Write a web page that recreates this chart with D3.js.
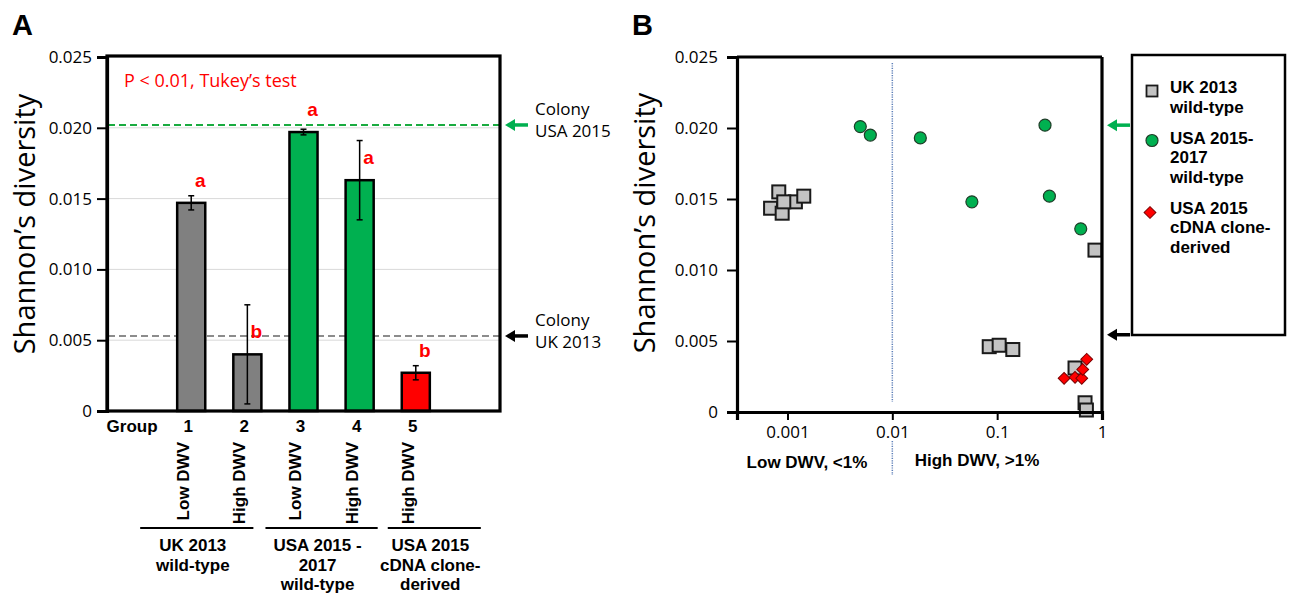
<!DOCTYPE html>
<html lang="en">
<head>
<meta charset="utf-8">
<title>Shannon's diversity</title>
<script src="https://cdn.jsdelivr.net/npm/d3@7"></script>
<style>
body { margin: 0; background: #fff; }
.sans { font-family: "Open Sans", sans-serif; }
.bold { font-family: "Liberation Sans", Arial, sans-serif; font-weight: bold; }
</style>
</head>
<body>
<svg id="fig" width="1290" height="596"></svg>
<script>
// ---- panel A data ----
var slots = ["Group", "1", "2", "3", "4", "5", ""];
var groups = ["1", "2", "3", "4", "5"];
var conditions = ["Low DWV", "High DWV", "Low DWV", "High DWV", "High DWV"];
var means = [0.0147, 0.0040, 0.0197, 0.0163, 0.0027];
var errs = [0.0005, 0.0035, 0.0002, 0.0028, 0.0005];
var letters = ["a", "b", "a", "a", "b"];
var barColors = ["#808080", "#808080", "#00b050", "#00b050", "#ff0000"];
var sources = [["UK 2013", "wild-type"], ["USA 2015 -", "2017", "wild-type"], ["USA 2015", "cDNA clone-", "derived"]];
var sourceBars = [["1", "2"], ["3", "4"], ["5", "5"]];
var colonyUSA = 0.0202, colonyUK = 0.0053;
var yTicks = [0, 0.005, 0.010, 0.015, 0.020, 0.025];

// ---- panel B data: [DWV fraction, Shannon's diversity] ----
var xTicksB = [0.001, 0.01, 0.1, 1];
var ukPts = [[0.00069, 0.01435], [0.00089, 0.0140], [0.000826, 0.0155], [0.00119, 0.0148],
             [0.00143, 0.0152], [0.000922, 0.0148], [0.084, 0.0046], [0.1045, 0.0047],
             [0.141, 0.0044], [0.553, 0.0031], [0.689, 0.00065], [0.71, 0.00014], [0.857, 0.0114]];
var usaPts = [[0.00495, 0.0201], [0.00617, 0.0195], [0.0185, 0.0193], [0.0574, 0.0148],
              [0.286, 0.0202], [0.315, 0.0152], [0.627, 0.0129]];
var cdnaPts = [[0.435, 0.00237], [0.553, 0.00244], [0.641, 0.00237], [0.655, 0.0030], [0.715, 0.00371]];
var legendItems = [["UK 2013", "wild-type"], ["USA 2015-", "2017", "wild-type"], ["USA 2015", "cDNA clone-", "derived"]];

var svg = d3.select("#fig");
var fmt = function (d) { return d === 0 ? "0" : d3.format(".3f")(d); };
var green = "#00b050";

function arrow(x, y, color) {
    svg.append("line").attr("x1", x + 8).attr("x2", x + 23).attr("y1", y).attr("y2", y)
        .attr("stroke", color).attr("stroke-width", 3.5);
    svg.append("path").attr("d", "M" + x + "," + y + "L" + (x + 10) + "," + (y - 6) + "L" + (x + 10) + "," + (y + 6) + "Z")
        .attr("fill", color);
}

function styleAxis(g) {
    g.select(".domain").attr("stroke-width", 3.2);
    g.selectAll(".tick line").attr("stroke-width", 2);
    g.selectAll(".tick text").attr("class", "sans").attr("font-size", 17).attr("fill", "#000");
}

// ================= Panel A =================
var xA = d3.scaleBand().domain(slots).range([107, 500]).paddingInner(0.5).paddingOuter(0.25);
var yA = d3.scaleLinear().domain([0, 0.025]).range([411, 57]);
var bw = xA.bandwidth();

svg.append("text").attr("class", "bold").attr("x", 12).attr("y", 35).attr("font-size", 29).text("A");

svg.append("g").selectAll("line").data(yTicks.slice(1, 5)).join("line")
    .attr("x1", 107).attr("x2", 500).attr("y1", yA).attr("y2", yA)
    .attr("stroke", "#d9d9d9").attr("stroke-width", 1);

// colony reference lines
svg.append("line").attr("x1", 108).attr("x2", 499).attr("y1", yA(colonyUSA)).attr("y2", yA(colonyUSA))
    .attr("stroke", "#1aab40").attr("stroke-width", 2).attr("stroke-dasharray", "7,4");
svg.append("line").attr("x1", 108).attr("x2", 499).attr("y1", yA(colonyUK)).attr("y2", yA(colonyUK))
    .attr("stroke", "#8c8c8c").attr("stroke-width", 2).attr("stroke-dasharray", "7,4");

svg.append("g").selectAll("rect").data(groups).join("rect")
    .attr("x", function (d) { return xA(d); })
    .attr("y", function (d, i) { return yA(means[i]); })
    .attr("width", bw)
    .attr("height", function (d, i) { return yA(0) - yA(means[i]); })
    .attr("fill", function (d, i) { return barColors[i]; })
    .attr("stroke", "#000").attr("stroke-width", 2.5);

var eb = svg.append("g").attr("stroke", "#000").attr("stroke-width", 1.5);
groups.forEach(function (g, i) {
    var cx = xA(g) + bw / 2;
    eb.append("line").attr("x1", cx).attr("x2", cx).attr("y1", yA(means[i] + errs[i])).attr("y2", yA(means[i] - errs[i]));
    eb.append("line").attr("x1", cx - 3).attr("x2", cx + 3).attr("y1", yA(means[i] + errs[i])).attr("y2", yA(means[i] + errs[i]));
    eb.append("line").attr("x1", cx - 3).attr("x2", cx + 3).attr("y1", yA(means[i] - errs[i])).attr("y2", yA(means[i] - errs[i]));
});

svg.append("g").selectAll("text").data(groups).join("text")
    .attr("class", "bold").attr("font-size", 19).attr("fill", "#ff0000")
    .attr("x", function (d) { return xA(d) + bw / 2 + 9; })
    .attr("y", function (d, i) { return yA(means[i]) - 16; })
    .attr("text-anchor", "middle")
    .text(function (d, i) { return letters[i]; });

svg.append("text").attr("class", "sans").attr("x", 124).attr("y", 87).attr("font-size", 18)
    .attr("fill", "#ff0000").text("P < 0.01, Tukey\u2019s test");

svg.append("rect").attr("x", 107).attr("y", 56).attr("width", 393).attr("height", 355)
    .attr("fill", "none").attr("stroke", "#000").attr("stroke-width", 3.2);

var axA = svg.append("g").attr("transform", "translate(107,0)")
    .call(d3.axisLeft(yA).tickValues(yTicks).tickFormat(fmt).tickSize(10).tickPadding(5));
styleAxis(axA);

svg.append("text").attr("class", "sans").attr("font-size", 29).attr("text-anchor", "middle")
    .attr("transform", "translate(35,224) rotate(-90)").text("Shannon\u2019s diversity");

// group row
svg.append("g").selectAll("text").data(slots.slice(0, 6)).join("text")
    .attr("class", "bold").attr("font-size", 17).attr("text-anchor", "middle")
    .attr("x", function (d) { return xA(d) + bw / 2 - 3; }).attr("y", 432)
    .text(function (d) { return d; });

svg.append("g").selectAll("text").data(groups).join("text")
    .attr("class", "bold").attr("font-size", 17).attr("text-anchor", "end").attr("dy", "0.35em")
    .attr("transform", function (d) { return "translate(" + (xA(d) + bw / 2 - 8) + ",442) rotate(-90)"; })
    .text(function (d, i) { return conditions[i]; });

var bracketPad = [[37, -8], [24, 4], [14, 51]];
sources.forEach(function (lines, k) {
    var x1 = xA(sourceBars[k][0]) - bracketPad[k][0];
    var x2 = xA(sourceBars[k][1]) + bw + bracketPad[k][1];
    svg.append("line").attr("x1", x1).attr("x2", x2).attr("y1", 528).attr("y2", 528)
        .attr("stroke", "#000").attr("stroke-width", 2);
    var t = svg.append("text").attr("class", "bold").attr("font-size", 17).attr("text-anchor", "middle");
    lines.forEach(function (s, j) {
        t.append("tspan").attr("x", (x1 + x2) / 2 - 4).attr("y", 551 + j * 19.5).text(s);
    });
});

// colony labels
arrow(505, yA(colonyUSA), green);
arrow(505, yA(colonyUK), "#000");
[[colonyUSA, "Colony", "USA 2015"], [colonyUK, "Colony", "UK 2013"]].forEach(function (c) {
    var y = yA(c[0]);
    svg.append("text").attr("class", "sans").attr("font-size", 17).attr("x", 535).attr("y", y - 10).text(c[1]);
    svg.append("text").attr("class", "sans").attr("font-size", 17).attr("x", 535).attr("y", y + 12).text(c[2]);
});

// ================= Panel B =================
var xB = d3.scaleLog().domain([0.00033, 1]).range([737, 1102]);
var yB = d3.scaleLinear().domain([0, 0.025]).range([412, 57]);

svg.append("text").attr("class", "bold").attr("x", 632).attr("y", 35).attr("font-size", 29).text("B");

var dotC = "#5d7fb8";
svg.append("line").attr("x1", xB(0.01)).attr("x2", xB(0.01)).attr("y1", 63).attr("y2", 402)
    .attr("stroke", dotC).attr("stroke-width", 1.5).attr("stroke-dasharray", "1.2,1.2");
svg.append("line").attr("x1", xB(0.01)).attr("x2", xB(0.01)).attr("y1", 441).attr("y2", 475)
    .attr("stroke", dotC).attr("stroke-width", 1.5).attr("stroke-dasharray", "1.2,1.2");

var sq = 13;
svg.append("g").selectAll("rect").data(ukPts).join("rect")
    .attr("x", function (d) { return xB(d[0]) - sq / 2; })
    .attr("y", function (d) { return yB(d[1]) - sq / 2; })
    .attr("width", sq).attr("height", sq)
    .attr("fill", "#c3c3c3").attr("stroke", "#1a1a1a").attr("stroke-width", 2);

svg.append("g").selectAll("circle").data(usaPts).join("circle")
    .attr("cx", function (d) { return xB(d[0]); })
    .attr("cy", function (d) { return yB(d[1]); })
    .attr("r", 6).attr("fill", green).attr("stroke", "#1f3d28").attr("stroke-width", 1.2);

var diamond = d3.symbol().type(d3.symbolSquare).size(70);
svg.append("g").selectAll("path").data(cdnaPts).join("path")
    .attr("d", diamond)
    .attr("transform", function (d) { return "translate(" + xB(d[0]) + "," + yB(d[1]) + ") rotate(45)"; })
    .attr("fill", "#ff0000").attr("stroke", "#7a0000").attr("stroke-width", 1);

svg.append("line").attr("x1", 737).attr("x2", 1102).attr("y1", 57).attr("y2", 57)
    .attr("stroke", "#000").attr("stroke-width", 3.2);
svg.append("line").attr("x1", 1102).attr("x2", 1102).attr("y1", 57).attr("y2", 412)
    .attr("stroke", "#000").attr("stroke-width", 3.2);

var axBy = svg.append("g").attr("transform", "translate(737,0)")
    .call(d3.axisLeft(yB).tickValues(yTicks).tickFormat(fmt).tickSize(10).tickPadding(9));
styleAxis(axBy);
var axBx = svg.append("g").attr("transform", "translate(0,412)")
    .call(d3.axisBottom(xB).tickValues(xTicksB).tickFormat(function (d) { return String(d); }).tickSize(8).tickPadding(6));
styleAxis(axBx);

svg.append("text").attr("class", "sans").attr("font-size", 29).attr("text-anchor", "middle")
    .attr("transform", "translate(655,223) rotate(-90)").text("Shannon\u2019s diversity");

svg.append("text").attr("class", "bold").attr("font-size", 17).attr("text-anchor", "middle")
    .attr("x", 807).attr("y", 468).text("Low DWV, <1%");
svg.append("text").attr("class", "bold").attr("font-size", 17).attr("text-anchor", "middle")
    .attr("x", 977).attr("y", 466).text("High DWV, >1%");

arrow(1107, yB(colonyUSA), green);
arrow(1107, yB(colonyUK) - 2, "#000");

// legend
svg.append("rect").attr("x", 1132).attr("y", 55).attr("width", 153).attr("height", 280)
    .attr("fill", "#fff").attr("stroke", "#000").attr("stroke-width", 2.5);
var ly = 93;
legendItems.forEach(function (lines, k) {
    var my = ly - 2;
    if (k === 0) {
        svg.append("rect").attr("x", 1152 - 5.5).attr("y", my - 5.5).attr("width", 11).attr("height", 11)
            .attr("fill", "#c3c3c3").attr("stroke", "#1a1a1a").attr("stroke-width", 1.8);
    } else if (k === 1) {
        svg.append("circle").attr("cx", 1152).attr("cy", my - 1).attr("r", 6)
            .attr("fill", green).attr("stroke", "#1f3d28").attr("stroke-width", 1.2);
    } else {
        svg.append("path").attr("d", diamond).attr("transform", "translate(1150," + (my + 1) + ") rotate(45)")
            .attr("fill", "#ff0000").attr("stroke", "#7a0000").attr("stroke-width", 1);
    }
    var t = svg.append("text").attr("class", "bold").attr("font-size", 17);
    lines.forEach(function (s, j) {
        t.append("tspan").attr("x", 1170).attr("y", ly + j * 19.5).text(s);
    });
    ly += (lines.length - 1) * 19.5 + 31;
});
</script>
</body>
</html>
